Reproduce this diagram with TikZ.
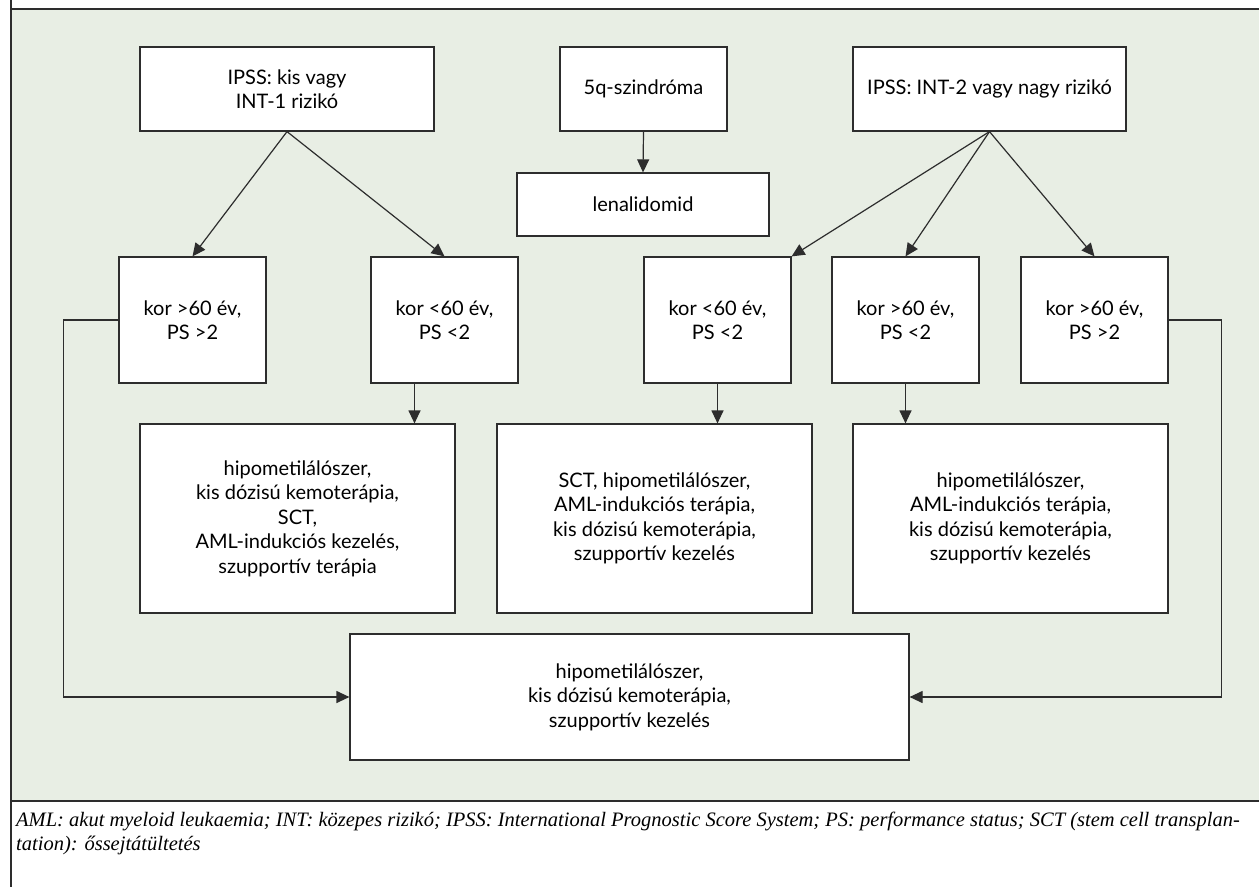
\documentclass[tikz,border=0pt]{standalone}
\usepackage{fontspec}
\setmainfont{Lato}
\newfontfamily\notefont{Liberation Serif}
\usetikzlibrary{arrows.meta}
\definecolor{panelgreen}{RGB}{232,238,228}
\definecolor{linegray}{RGB}{45,45,45}
\tikzset{
  box/.style={draw=linegray,fill=white,line width=1.2pt,align=center,inner sep=0pt,
    font=\fontsize{20}{24.5}\selectfont},
  agebox/.style={box,minimum width=147,minimum height=126},
  therapybox/.style={box,minimum width=315,minimum height=189},
  arr/.style={draw=linegray,line width=1.2pt,-{Triangle[length=13pt,width=12pt]}},
  frameline/.style={draw=linegray,line width=1.5pt},
}

\begin{document}
\begin{tikzpicture}[x=1pt,y=-1pt]
        \useasboundingbox (0,0) rectangle (1259,887);
        \fill[white] (0,0) rectangle (1259,887);
        \fill[panelgreen] (11,9) rectangle (1259,801);
        \draw[frameline] (11,0) -- (11,887);
        \draw[frameline] (11,9) -- (1259,9);
        \draw[frameline] (11,801) -- (1259,801);

        \node[box,minimum width=294,minimum height=84] (low) at (287,89) {IPSS: kis vagy\\INT-1 rizikó};
        \node[box,minimum width=167,minimum height=84] (fiveq) at (643.5,89) {5q-szindróma};
        \node[box,minimum width=252,minimum height=63] (lena) at (643,204.5) {lenalidomid};
        \node[box,minimum width=273,minimum height=84] (high) at (989.5,89) {IPSS: INT-2 vagy nagy rizikó};

        \node[agebox] (lowold) at (192.5,320) {kor >60 év,\\PS >2};
        \node[agebox] (lowyoung) at (444.5,320) {kor <60 év,\\PS <2};
        \node[agebox] (highyoung) at (717.5,320) {kor <60 év,\\PS <2};
        \node[agebox] (highfit) at (905.5,320) {kor >60 év,\\PS <2};
        \node[agebox] (highold) at (1094.5,320) {kor >60 év,\\PS >2};

        \node[therapybox] (lowther) at (297.5,518.5) {hipometilálószer,\\kis dózisú kemoterápia,\\SCT,\\AML-indukciós kezelés,\\szupportív terápia};
        \node[therapybox] (youngther) at (654.5,518.5) {SCT, hipometilálószer,\\AML-indukciós terápia,\\kis dózisú kemoterápia,\\szupportív kezelés};
        \node[therapybox] (fitther) at (1010.5,518.5) {hipometilálószer,\\AML-indukciós terápia,\\kis dózisú kemoterápia,\\szupportív kezelés};

        \node[box,minimum width=559,minimum height=126] (support) at (629.5,697) {hipometilálószer,\\kis dózisú kemoterápia,\\szupportív kezelés};

        \draw[arr] (low.south) -- (lowold.north);
        \draw[arr] (low.south) -- (lowyoung.north);
        \draw[arr] (fiveq.south) -- (lena.north);
        \draw[arr] (high.south) -- (highyoung.north east);
        \draw[arr] (high.south) -- (highfit.north);
        \draw[arr] (high.south) -- (highold.north);
        \draw[arr] ([xshift=-30]lowyoung.south) -- ([xshift=-30]lowyoung.south |- lowther.north);
        \draw[arr] (highyoung.south) -- (highyoung.south |- youngther.north);
        \draw[arr] (highfit.south) -- (highfit.south |- fitther.north);
        \draw[arr] (lowold.west) -- ++(-55,0) |- (support.west);
        \draw[arr] (highold.east) -- ++(53,0) |- (support.east);

        \node[anchor=north west,align=left,inner sep=0pt,font=\notefont\itshape\fontsize{20.5}{23.5}\selectfont] (note) at (16,812)
          {AML: akut myeloid leukaemia; INT: közepes rizikó; IPSS: International Prognostic Score System; PS: performance status; SCT (stem cell transplan-\\tation): őssejtátültetés};
\end{tikzpicture}
\end{document}
